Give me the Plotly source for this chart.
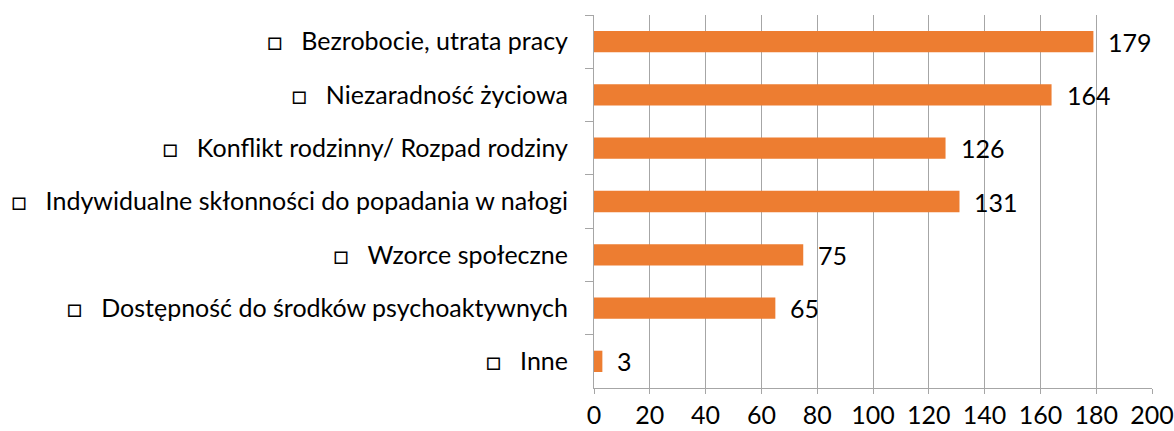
import plotly.graph_objects as go

categories = [
    "Bezrobocie, utrata pracy",
    "Niezaradność życiowa",
    "Konflikt rodzinny/ Rozpad rodziny",
    "Indywidualne skłonności do popadania w nałogi",
    "Wzorce społeczne",
    "Dostępność do środków psychoaktywnych",
    "Inne",
]
values = [179, 164, 126, 131, 75, 65, 3]
x_ticks = [0, 20, 40, 60, 80, 100, 120, 140, 160, 180, 200]

labels = ["\u25a1\u00a0\u00a0\u00a0" + c for c in categories]

FONT = "Lato"
FS = 25
fig = go.Figure()
fig.add_trace(go.Bar(
    x=values, y=labels, orientation="h",
    marker=dict(color="#ED7D31", line=dict(width=0)),
    hoverinfo="skip",
))
for v, l in zip(values, labels):
    fig.add_annotation(x=v, y=l, text=str(v), showarrow=False, xanchor="left",
                       xshift=13, font=dict(family=FONT, size=FS, color="#000"))

fig.update_layout(
    width=1174, height=431,
    margin=dict(l=594, r=22, t=15, b=43, autoexpand=False),
    paper_bgcolor="white", plot_bgcolor="white",
    bargap=0.6, showlegend=False,
    font=dict(family=FONT, size=FS, color="#000"),
)
fig.update_xaxes(
    range=[0, 200], tickvals=x_ticks, ticktext=[str(t) for t in x_ticks],
    showgrid=True, gridcolor="#a6a6a6", gridwidth=1,
    showline=True, linecolor="#a6a6a6", linewidth=1,
    ticks="outside", ticklen=5, tickcolor="#a6a6a6", automargin=False,
    zeroline=False, tickfont=dict(family=FONT, size=FS, color="#000"),
)
fig.update_yaxes(
    autorange="reversed", categoryorder="array", categoryarray=labels,
    showline=True, linecolor="#a6a6a6", linewidth=1, automargin=False,
    ticks="outside", ticklen=8, tickcolor="#a6a6a6", tickson="boundaries",
    showgrid=False, ticklabelstandoff=20,
    tickfont=dict(family=FONT, size=FS, color="#000"),
)
fig.write_html("out.html", config={"displayModeBar": False},
               post_script="document.body.style.margin='0';document.body.style.overflow='hidden';")
